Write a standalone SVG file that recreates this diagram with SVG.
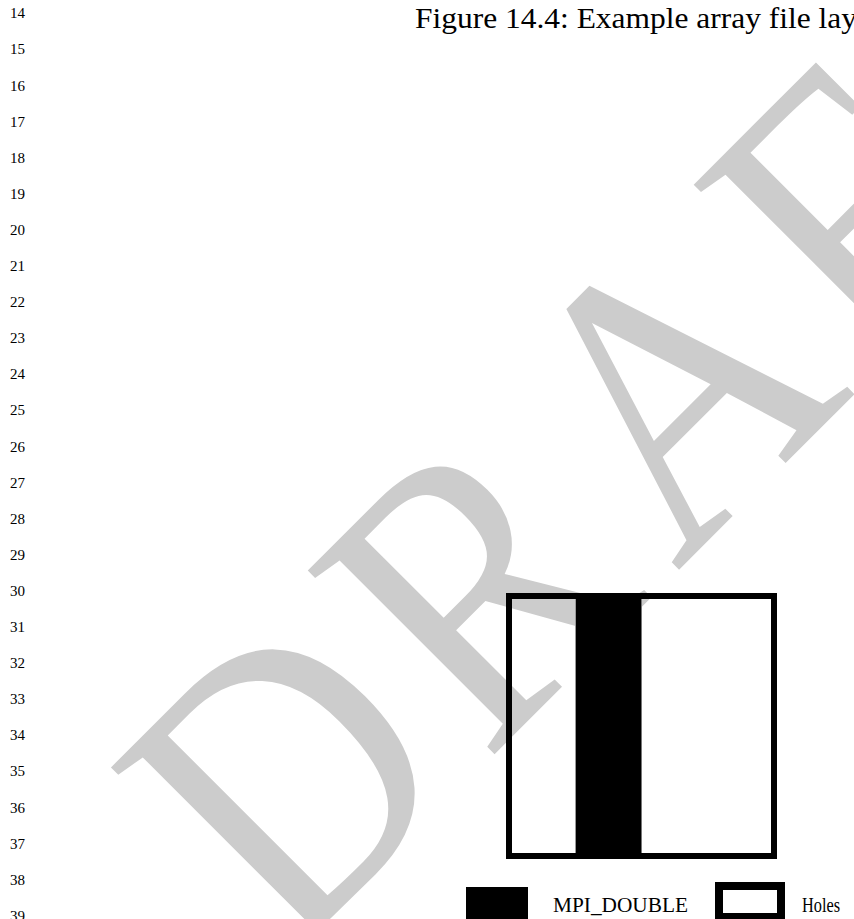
<svg xmlns="http://www.w3.org/2000/svg" width="854" height="919" viewBox="0 0 854 919">
  <style>
    .ln { font-family: "Liberation Serif", "Times New Roman", serif; font-size: 15px; fill: #000; }
    .title { font-family: "Liberation Serif", "Times New Roman", serif; font-size: 30px; fill: #000; }
    .legend { font-family: "Liberation Serif", "Times New Roman", serif; font-size: 20px; fill: #000; }
    .wm { font-family: "Liberation Serif", "Times New Roman", serif; font-size: 400px; fill: #cccccc; }
  </style>
  <rect x="0" y="0" width="854" height="919" fill="#ffffff"/>

  <g id="watermark" transform="rotate(-45) scale(0.88 1)">
    <text class="wm" y="883"><tspan x="-539">D</tspan><tspan x="-222.7">R</tspan><tspan x="84">A</tspan><tspan x="397.5">F</tspan><tspan x="693">T</tspan></text>
  </g>

  <g id="line-numbers">
    <text class="ln" x="10" y="18.3">14</text>
    <text class="ln" x="10" y="54.4">15</text>
    <text class="ln" x="10" y="90.5">16</text>
    <text class="ln" x="10" y="126.6">17</text>
    <text class="ln" x="10" y="162.7">18</text>
    <text class="ln" x="10" y="198.8">19</text>
    <text class="ln" x="10" y="234.9">20</text>
    <text class="ln" x="10" y="271">21</text>
    <text class="ln" x="10" y="307.1">22</text>
    <text class="ln" x="10" y="343.2">23</text>
    <text class="ln" x="10" y="379.3">24</text>
    <text class="ln" x="10" y="415.4">25</text>
    <text class="ln" x="10" y="451.5">26</text>
    <text class="ln" x="10" y="487.6">27</text>
    <text class="ln" x="10" y="523.7">28</text>
    <text class="ln" x="10" y="559.8">29</text>
    <text class="ln" x="10" y="595.9">30</text>
    <text class="ln" x="10" y="632">31</text>
    <text class="ln" x="10" y="668.1">32</text>
    <text class="ln" x="10" y="704.2">33</text>
    <text class="ln" x="10" y="740.3">34</text>
    <text class="ln" x="10" y="776.4">35</text>
    <text class="ln" x="10" y="812.5">36</text>
    <text class="ln" x="10" y="848.6">37</text>
    <text class="ln" x="10" y="884.7">38</text>
    <text class="ln" x="10" y="920.8">39</text>
  </g>

  <g id="caption">
    <text class="title" x="415" y="28.3" textLength="442" lengthAdjust="spacingAndGlyphs">Figure 14.4: Example array file lay</text>
  </g>

  <g id="file-layout">
    <rect x="576" y="596" width="65" height="260" fill="#000"/>
    <line x1="575.5" y1="599" x2="575.5" y2="853" stroke="#999" stroke-width="1"/>
    <line x1="641.5" y1="599" x2="641.5" y2="853" stroke="#777" stroke-width="1"/>
    <rect x="509" y="596" width="265" height="260" fill="none" stroke="#000" stroke-width="6"/>
  </g>

  <g id="legend-double">
    <rect x="466" y="887" width="62" height="36" fill="#000"/>
    <text class="legend" x="553" y="912" textLength="135" lengthAdjust="spacingAndGlyphs">MPI_DOUBLE</text>
  </g>

  <g id="legend-holes">
    <rect x="719" y="886" width="62" height="31" fill="#fff" stroke="#000" stroke-width="8"/>
    <text class="legend" x="802" y="912" textLength="38" lengthAdjust="spacingAndGlyphs">Holes</text>
  </g>
</svg>
